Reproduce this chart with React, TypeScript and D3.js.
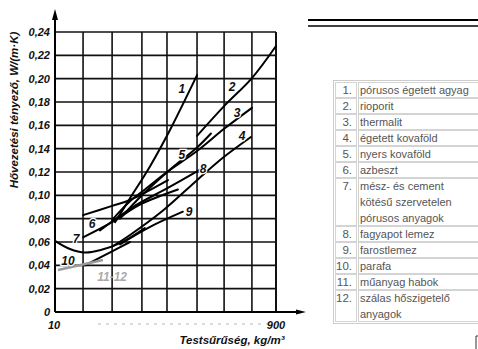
import React from 'react';
import * as d3 from 'd3';

// axis ticks and grid
const yTicks = [0, 0.02, 0.04, 0.06, 0.08, 0.1, 0.12, 0.14, 0.16, 0.18, 0.2, 0.22, 0.24];
const xGrid = [10, 123, 240, 360, 461, 582, 691, 803, 900];
const xTickLabels = [
  { v: 10, label: '10' },
  { v: 900, label: '900' },
];

// curves: [density kg/m3, lambda W/(m K)]
const curve1 = [[252, 0.077], [312, 0.0975], [393, 0.125], [473, 0.156], [582, 0.203]];
const curve2 = [[582, 0.151], [691, 0.1765], [803, 0.2005], [900, 0.228]];
const curve3 = [[240, 0.079], [312, 0.095], [360, 0.103], [461, 0.12], [582, 0.138], [691, 0.157], [803, 0.175]];
const curve4 = [[240, 0.056], [312, 0.066], [445, 0.087], [582, 0.113], [691, 0.133], [799, 0.15]];
const curve5 = [[272, 0.08], [360, 0.1], [473, 0.122], [582, 0.141], [638, 0.153]];
const curve6 = [[123, 0.083], [240, 0.091], [312, 0.096], [465, 0.113]];
const curve7 = [[123, 0.064], [240, 0.077], [352, 0.092], [505, 0.105]];
const curve7u = [[10, 0.061], [70, 0.054], [131, 0.051], [191, 0.053], [272, 0.059], [372, 0.072]];
const curve8 = [[191, 0.07], [324, 0.09], [461, 0.106], [594, 0.122]];
const curve9 = [[272, 0.058], [393, 0.073], [525, 0.086]];
const curve10 = [[131, 0.04], [240, 0.052], [312, 0.06]];
const curve1112 = [[22, 0.036], [203, 0.0446]];

const blackCurves = [curve1, curve2, curve3, curve4, curve5, curve6, curve7, curve7u, curve8, curve9, curve10];

const curveLabels = [
  { t: '1', x: 521, y: 0.191 },
  { t: '2', x: 723, y: 0.193 },
  { t: '3', x: 743, y: 0.171 },
  { t: '4', x: 763, y: 0.151 },
  { t: '5', x: 521, y: 0.1345 },
  { t: '6', x: 159, y: 0.0754 },
  { t: '7', x: 95, y: 0.0626 },
  { t: '8', x: 606, y: 0.123 },
  { t: '9', x: 550, y: 0.0857 },
  { t: '10', x: 62, y: 0.0437 },
];

const legendNums = ['1.', '2.', '3.', '4.', '5.', '6.', '7.', '8.', '9.', '10.', '11.', '12.'];
const legendTexts = [
  ['pórusos égetett agyag'],
  ['rioporit'],
  ['thermalit'],
  ['égetett kovaföld'],
  ['nyers kovaföld'],
  ['azbeszt'],
  ['mész- és cement', 'kötésű szervetelen', 'pórusos anyagok'],
  ['fagyapot lemez'],
  ['farostlemez'],
  ['parafa'],
  ['műanyag habok'],
  ['szálas hőszigetelő', 'anyagok'],
];

const W = 478;
const H = 349;

export default function App() {
  const x = d3.scaleLinear().domain([10, 900]).range([55, 276]);
  const y = d3.scaleLinear().domain([0, 0.24]).range([312, 32]);
  const line = d3
    .line<number[]>()
    .x((d) => x(d[0]))
    .y((d) => y(d[1]))
    .curve(d3.curveCatmullRom.alpha(0.5));
  const fmt = (v: number) => (v === 0 ? '0' : d3.format('.2f')(v).replace('.', ','));

  const font = "'Liberation Sans', Arial, sans-serif";
  const x0 = x(10);
  const x1 = x(900);

  // legend table layout
  const lineH = 16;
  const tableTop = 82;
  let rowTop = tableTop;
  const rows = legendTexts.map((lines, i) => {
    const r = { top: rowTop, h: lines.length * lineH, lines, num: legendNums[i] };
    rowTop += r.h;
    return r;
  });

  return (
    <svg width={W} height={H} style={{ position: 'absolute', left: 0, top: 0, background: '#fff' }}>
      {/* grid */}
      <g stroke="#111" strokeWidth={1.6}>
        {yTicks.filter((t) => t > 0).map((t) => (
          <line key={t} x1={x0} x2={x1} y1={y(t)} y2={y(t)} />
        ))}
        {xGrid.slice(1).map((v) => (
          <line key={v} x1={x(v)} x2={x(v)} y1={y(0)} y2={y(0.24)} strokeWidth={v === 900 ? 2 : 1.6} />
        ))}
      </g>
      {/* axes with arrows */}
      <line x1={x0} x2={x0} y1={y(0)} y2={16} stroke="#000" strokeWidth={2} />
      <path d={`M${x0},9 L${x0 - 3},20 L${x0 + 3},20 Z`} fill="#000" />
      <line x1={x0} x2={300} y1={y(0)} y2={y(0)} stroke="#000" strokeWidth={2} />
      <path d={`M306,${y(0)} L296,${y(0) - 2.5} L296,${y(0) + 2.5} Z`} fill="#000" />
      <line x1={98} x2={282} y1={324} y2={324} stroke="#aaa" strokeWidth={0.8} strokeDasharray="3 5" />

      {/* tick labels */}
      {yTicks.map((t) => (
        <text key={t} x={50} y={y(t) + 4} textAnchor="end" fontFamily={font} fontStyle="italic" fontWeight="bold" fontSize={11} fill="#111">
          {fmt(t)}
        </text>
      ))}
      {xTickLabels.map((d) => (
        <text key={d.label} x={x(d.v) + (d.v === 10 ? -1 : 0)} y={329} textAnchor="middle" fontFamily={font} fontStyle="italic" fontWeight="bold" fontSize={11} fill="#111">
          {d.label}
        </text>
      ))}

      {/* axis titles */}
      <text transform="translate(18,110) rotate(-90)" textAnchor="middle" fontFamily={font} fontStyle="italic" fontWeight="bold" fontSize={11.5} fill="#111">
        Hővezetési  tényező,  W/(m·K)
      </text>
      <text x={232} y={344} textAnchor="middle" fontFamily={font} fontStyle="italic" fontWeight="bold" fontSize={11.5} fill="#111">
        Testsűrűség,  kg/m³
      </text>

      {/* curves */}
      <g fill="none" stroke="#000" strokeWidth={2} strokeLinecap="round">
        {blackCurves.map((c, i) => (
          <path key={i} d={line(c) ?? ''} />
        ))}
      </g>
      <path d={line(curve1112) ?? ''} fill="none" stroke="#9a9a9a" strokeWidth={2.5} />
      {curveLabels.map((l) => (
        <text key={l.t} x={x(l.x)} y={y(l.y) + 4} textAnchor="middle" fontFamily={font} fontStyle="italic" fontWeight="bold" fontSize={12} fill="#111" stroke="#fff" strokeWidth={2.5} paintOrder="stroke">
          {l.t}
        </text>
      ))}
      <text x={x(240)} y={y(0.03) + 4} textAnchor="middle" fontFamily={font} fontStyle="italic" fontWeight="bold" fontSize={12} fill="#aaa">
        11-12
      </text>

      {/* top rules */}
      <line x1={308} x2={W} y1={20} y2={20} stroke="#000" strokeWidth={2} />
      <line x1={308} x2={W} y1={26} y2={26} stroke="#000" strokeWidth={1.5} />

      {/* legend table */}
      <rect x={333.5} y={tableTop - 1.5} width={150} height={rowTop - tableTop + 3} fill="none" stroke="#ccc" />
      {rows.map((r) => (
        <g key={r.num}>
          <rect x={335.5} y={r.top + 0.5} width={21} height={r.h - 1} fill="none" stroke="#d4d4d4" />
          <rect x={358.5} y={r.top + 0.5} width={125} height={r.h - 1} fill="none" stroke="#d4d4d4" />
          <text x={352} y={r.top + 12} textAnchor="end" fontFamily={font} fontSize={11.5} fill="#555">
            {r.num}
          </text>
          {r.lines.map((t, j) => (
            <text key={j} x={360} y={r.top + 12 + j * lineH} fontFamily={font} fontSize={11} fill="#555">
              {t}
            </text>
          ))}
        </g>
      ))}
      <path d="M478,336 L476,336 L476,349" fill="none" stroke="#333" strokeWidth={1} />
    </svg>
  );
}
